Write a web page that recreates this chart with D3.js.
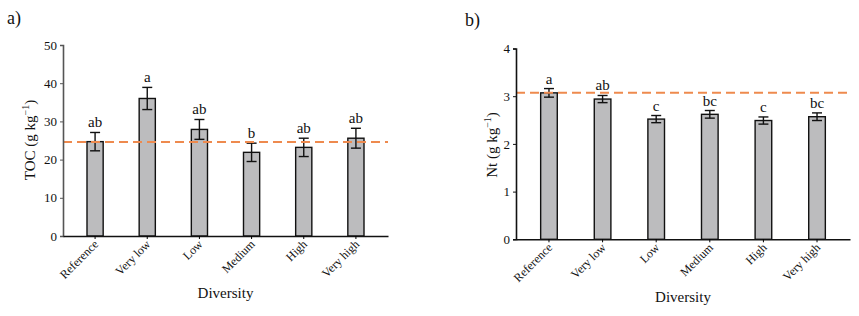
<!DOCTYPE html>
<html>
<head>
<meta charset="utf-8">
<script src="https://cdn.jsdelivr.net/npm/d3@7"></script>
<style>
	body { margin: 0; background: #fff; }
	svg text { font-family: "Times New Roman", Times, "Liberation Serif", serif; fill: #111; }
</style>
</head>
<body>
<div id="chart"></div>
<script>
// categories shared by both panels
const categories = ["Reference", "Very low", "Low", "Medium", "High", "Very high"];

// panel a) total organic carbon
const tocMean = [24.7, 36.0, 27.9, 21.9, 23.2, 25.6];
const tocErr = [2.4, 2.9, 2.6, 2.4, 2.4, 2.6];
const tocLetters = ["ab", "a", "ab", "b", "ab", "ab"];
const tocRefLine = 24.6;
const tocTicks = [0, 10, 20, 30, 40, 50];

// panel b) total nitrogen
const ntMean = [3.07, 2.94, 2.52, 2.62, 2.49, 2.57];
const ntErr = [0.09, 0.075, 0.075, 0.08, 0.075, 0.08];
const ntLetters = ["a", "ab", "c", "bc", "c", "bc"];
const ntRefLine = 3.07;
const ntTicks = [0, 1, 2, 3, 4];

const width = 859, height = 316;
const serif = '"Times New Roman", Times, "Liberation Serif", serif';
const svg = d3.select("#chart").append("svg")
	.attr("width", width)
	.attr("height", height)
	.style("font-family", serif);

function drawPanel(p) {
	const xScale = d3.scaleBand()
		.domain(categories)
		.range([p.left, p.right])
		.paddingInner(0.69)
		.paddingOuter(0.46);
	const yScale = d3.scaleLinear()
		.domain(p.domain)
		.range([p.bottom, p.top]);

	const g = svg.append("g");

	// bars
	g.selectAll("rect.bar")
		.data(p.mean)
		.join("rect")
		.attr("class", "bar")
		.attr("x", (d, i) => xScale(categories[i]))
		.attr("y", d => yScale(d))
		.attr("width", xScale.bandwidth())
		.attr("height", d => yScale(p.domain[0]) - yScale(d))
		.attr("fill", "#bcbcbe")
		.attr("stroke", "#111")
		.attr("stroke-width", 1.4);

	// error bars
	const cap = 5;
	const eb = g.selectAll("g.err")
		.data(p.mean)
		.join("g")
		.attr("class", "err")
		.attr("stroke", "#111")
		.attr("stroke-width", 1.4);
	const cx = (i) => xScale(categories[i]) + xScale.bandwidth() / 2;
	eb.append("line")
		.attr("x1", (d, i) => cx(i)).attr("x2", (d, i) => cx(i))
		.attr("y1", (d, i) => yScale(d - p.err[i]))
		.attr("y2", (d, i) => yScale(d + p.err[i]));
	eb.append("line")
		.attr("x1", (d, i) => cx(i) - cap).attr("x2", (d, i) => cx(i) + cap)
		.attr("y1", (d, i) => yScale(d + p.err[i]))
		.attr("y2", (d, i) => yScale(d + p.err[i]));
	eb.append("line")
		.attr("x1", (d, i) => cx(i) - cap).attr("x2", (d, i) => cx(i) + cap)
		.attr("y1", (d, i) => yScale(d - p.err[i]))
		.attr("y2", (d, i) => yScale(d - p.err[i]));

	// significance letters
	g.selectAll("text.letter")
		.data(p.letters)
		.join("text")
		.attr("class", "letter")
		.attr("x", (d, i) => cx(i))
		.attr("y", (d, i) => yScale(p.mean[i] + p.err[i]) - 5)
		.attr("text-anchor", "middle")
		.style("font-size", "15px")
		.text(d => d);

	// reference dashed line
	g.append("line")
		.attr("x1", p.left).attr("x2", p.right)
		.attr("y1", yScale(p.refLine)).attr("y2", yScale(p.refLine))
		.attr("stroke", "#ee8a4e")
		.attr("stroke-width", 2)
		.attr("stroke-dasharray", "9,5");

	// y axis
	const yAxis = g.append("g")
		.attr("transform", `translate(${p.left},0)`)
		.call(d3.axisLeft(yScale).tickValues(p.ticks).tickFormat(d3.format("d")).tickSize(3).tickPadding(3));
	yAxis.attr("font-family", serif);
	yAxis.select(".domain").attr("stroke", p.axisColor).attr("stroke-width", 1.6);
	yAxis.selectAll(".tick line").attr("stroke", p.axisColor);
	yAxis.selectAll(".tick text").style("font-size", "13px");

	// x axis
	const xAxis = g.append("g")
		.attr("transform", `translate(0,${p.bottom})`)
		.call(d3.axisBottom(xScale).tickSize(3).tickSizeOuter(0));
	xAxis.attr("font-family", serif);
	xAxis.select(".domain").attr("stroke", "#111").attr("stroke-width", 1.6);
	xAxis.selectAll(".tick text")
		.style("font-size", "12px")
		.attr("text-anchor", "end")
		.attr("dy", null)
		.attr("y", 0)
		.attr("transform", "translate(4,9) rotate(-45)");

	// axis titles
	const yl = g.append("text")
		.attr("transform", `translate(${p.yLabelX},${p.yLabelY}) rotate(-90)`)
		.attr("text-anchor", "middle")
		.style("font-size", "15px");
	yl.append("tspan").text(p.yLabel + " (g kg");
	yl.append("tspan").attr("dy", -6).style("font-size", "10px").text("\u22121");
	yl.append("tspan").attr("dy", 6).text(")");

	g.append("text")
		.attr("x", (p.left + p.right) / 2)
		.attr("y", p.xLabelY)
		.attr("text-anchor", "middle")
		.style("font-size", "15px")
		.text("Diversity");

	g.append("text")
		.attr("x", p.tagX)
		.attr("y", p.tagY)
		.style("font-size", "18px")
		.text(p.tag);
}

drawPanel({
	mean: tocMean, err: tocErr, letters: tocLetters, refLine: tocRefLine, ticks: tocTicks,
	domain: [0, 50], left: 63, right: 388, top: 45, bottom: 236,
	axisColor: "#555", yLabel: "TOC", yLabelX: 35, yLabelY: 140, xLabelY: 298,
	tag: "a)", tagX: 7, tagY: 24
});

drawPanel({
	mean: ntMean, err: ntErr, letters: ntLetters, refLine: ntRefLine, ticks: ntTicks,
	domain: [0, 4], left: 516, right: 850, top: 48.5, bottom: 239.3,
	axisColor: "#111", yLabel: "Nt", yLabelX: 497, yLabelY: 145, xLabelY: 302,
	tag: "b)", tagX: 465, tagY: 26
});
</script>
</body>
</html>
